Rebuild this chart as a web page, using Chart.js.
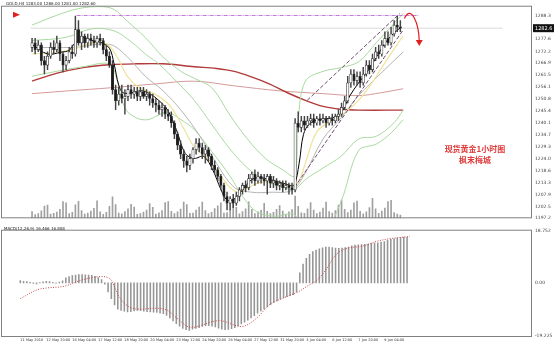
<!DOCTYPE html>
<html>
<head>
<meta charset="utf-8">
<script src="https://cdn.jsdelivr.net/npm/chart.js@4.4.0/dist/chart.umd.min.js"></script>
<style>
  body { margin: 0; background: #fff; width: 554px; height: 343px; overflow: hidden; position: relative; font-family: "DejaVu Sans", sans-serif; }
  #main { position: absolute; left: 0; top: 0; }
  #macd { position: absolute; left: 0; top: 224px; }
  .tiny { position: absolute; font-size: 4px; color: #222; white-space: nowrap; z-index: 2; }
  .cn { position: absolute; color: #e03a3a; font: bold 8px "Noto Sans CJK SC", sans-serif; white-space: nowrap; z-index: 2; text-align: center; width: 90px; }
</style>
</head>
<body>
<canvas id="main" width="554" height="224"></canvas>
<canvas id="macd" width="554" height="119"></canvas>
<div class="tiny" style="left:6px;top:1px">GOLD,H4 1283.00 1286.00 1281.00 1282.60</div>
<div class="tiny" style="left:4px;top:226px">MACD(12,26,9) 16.466 16.808</div>
<div class="cn" style="left:430px;top:143px">现货黄金1小时图</div>
<div class="cn" style="left:430px;top:154px">枫末梅城</div>
<script>
// candles (index 0 .. 119), 4h gold
const opens = [
  1274,1276,1273,1275,1268,1266,1270,1274,1273,1276,
  1271,1266,1268,1272,1271,1282,1276,1279,1276,1278,
  1277,1276,1278,1277,1273,1270,1266,1255,1250,1253,
  1251,1252,1255,1253,1254,1252,1254,1252,1253,1251,
  1249,1248,1246,1247,1244,1243,1240,1235,1230,1226,
  1223,1221,1224,1228,1231,1229,1226,1228,1225,1221,
  1219,1216,1212,1207,1204,1206,1204,1207,1210,1212,
  1211,1215,1217,1214,1216,1215,1214,1216,1213,1214,
  1212,1213,1211,1212,1211,1210,1240,1238,1241,1239,
  1241,1242,1240,1242,1241,1242,1240,1242,1241,1243,
  1244,1247,1250,1258,1262,1259,1261,1258,1262,1266,
  1264,1269,1272,1271,1275,1278,1276,1280,1284,1283
];
const closes = [
  1276,1273,1275,1268,1266,1270,1274,1273,1276,1271,
  1266,1268,1272,1271,1282,1276,1279,1276,1278,1277,
  1276,1278,1277,1273,1270,1266,1255,1250,1253,1251,
  1252,1255,1253,1254,1252,1254,1252,1253,1251,1249,
  1248,1246,1247,1244,1243,1240,1235,1230,1226,1223,
  1221,1224,1228,1231,1229,1226,1228,1225,1221,1219,
  1216,1212,1207,1204,1206,1204,1207,1210,1212,1211,
  1215,1217,1214,1216,1215,1214,1216,1213,1214,1212,
  1213,1211,1212,1211,1210,1240,1238,1241,1239,1241,
  1242,1240,1242,1241,1242,1240,1242,1241,1243,1244,
  1247,1250,1258,1262,1259,1261,1258,1262,1266,1264,
  1269,1272,1271,1275,1278,1276,1280,1284,1283,1282.6
];
const highs = [
  1278,1278,1277,1276,1270,1272,1276,1277,1279,1277,
  1272,1270,1274,1275,1288,1286,1281,1280,1280,1280,
  1279,1279,1280,1278,1275,1272,1268,1257,1256,1257,
  1255,1257,1257,1256,1256,1256,1256,1255,1254,1253,
  1251,1250,1249,1248,1246,1245,1241,1236,1232,1228,
  1225,1226,1229,1233,1233,1231,1230,1229,1226,1223,
  1220,1217,1213,1209,1207,1208,1209,1211,1213,1214,
  1217,1218,1219,1218,1217,1217,1217,1217,1216,1215,
  1214,1214,1214,1213,1213,1242,1245,1243,1243,1243,
  1244,1244,1243,1244,1244,1243,1243,1244,1244,1246,
  1249,1252,1261,1264,1264,1263,1263,1265,1268,1268,
  1271,1274,1275,1277,1281,1281,1283,1286,1288,1286
];
const lows = [
  1272,1271,1272,1266,1262,1264,1269,1271,1272,1268,
  1263,1264,1267,1269,1270,1275,1273,1274,1274,1275,
  1274,1274,1275,1271,1268,1265,1253,1246,1248,1249,
  1244,1250,1251,1251,1250,1250,1251,1250,1248,1247,
  1245,1244,1243,1242,1241,1238,1233,1228,1224,1220,
  1218,1219,1222,1226,1227,1224,1222,1223,1219,1217,
  1214,1210,1205,1201,1201,1202,1203,1205,1208,1209,
  1210,1213,1212,1213,1213,1212,1208,1211,1211,1210,
  1210,1209,1210,1208,1208,1209,1236,1236,1237,1238,
  1239,1238,1239,1239,1240,1238,1239,1239,1240,1241,
  1243,1246,1249,1256,1257,1257,1256,1257,1261,1262,
  1263,1268,1269,1270,1274,1275,1275,1279,1281,1281
];
const volumes = [
  3800,2100,2600,4200,6900,7400,2400,2800,3500,5100,
  9400,8800,2600,3300,7600,9600,4400,2400,2900,4100,
  5600,9900,3600,2200,3300,6800,12100,7700,3000,2500,
  3800,5400,7900,6300,2300,2600,3500,4600,8300,6200,
  2400,3100,4400,8900,9500,3900,2700,3600,5200,9100,
  7800,2800,3000,4700,6400,9200,4300,2600,3400,5500,
  7100,8700,2900,3200,4800,8600,6200,2500,3800,5300,
  9300,5000,2700,3600,4500,8400,3900,2600,3300,5000,
  7200,4100,2400,3700,4900,12500,6800,3100,2800,5300,
  8900,4600,2600,3500,5800,9200,3800,2900,4400,7400,
  10300,5100,3200,4700,8800,9700,3900,2500,3600,6000,
  11300,5400,2800,4100,5700,9400,10100,3200,2400,1800
];

// indicator lines: [candle index, price]
const maFast = [[0,1275.3],[5,1271],[9.3,1271.8],[12,1272.7],[14,1276.2],[16.5,1278.4],[19.3,1277.1],[22.2,1276.2],[25,1273.6],[26.5,1266.6],[28,1257.1],[29.4,1253.6],[32.3,1253.6],[35.1,1254.5],[38,1253.2],[40.9,1250.2],[43.8,1245.8],[46.6,1237.1],[49.5,1226.3],[52.4,1224.1],[55.5,1225],[58.4,1218.9],[61,1210.2],[63,1205.4],[65.3,1205.9],[68.2,1210.2],[71,1214.6],[74,1215.4],[78.2,1214.1],[82.5,1212.4],[84.6,1211.9],[86.3,1221.9],[87.7,1234.9],[89.7,1239.7],[92.6,1241.5],[96.9,1242.3],[99.8,1244.5],[102.7,1252.3],[105.5,1258],[108.4,1263.2],[111.3,1269.7],[114.2,1276.2],[117,1280.5],[119.3,1283.1]];
const maYellow = [[0,1271],[7.8,1271.8],[13.6,1273.2],[17.9,1275.3],[22.2,1276.2],[25,1274.5],[28,1268.4],[30.8,1261],[35.1,1255.4],[39.4,1253.2],[43.8,1248.9],[46.6,1243.6],[49.5,1236.3],[52.4,1229.3],[56.7,1224.1],[61,1216.3],[63.9,1211.1],[66.7,1208.9],[69.6,1210.7],[72.5,1212.8],[75.4,1213.7],[81.1,1212.8],[85.4,1212.4],[88.3,1221.9],[90.6,1231.9],[92.6,1237.1],[96.3,1240.6],[100.4,1244.1],[105.5,1250.2],[109.8,1258],[114.2,1267.5],[119.9,1279.2]];
const maGray = [[0,1274],[13.6,1274],[25.1,1275.3],[30.8,1269.7],[36.6,1261],[42.3,1254.5],[48.1,1245.8],[53.8,1235],[59.6,1221.9],[65.3,1211.1],[71.1,1208.9],[76.8,1208.9],[84,1209.8],[88.3,1217.6],[94,1232.8],[99.8,1242.3],[105.5,1252.3],[112.7,1262.3],[119.9,1271.9]];
const bandUpper = [[0,1284],[7.8,1288.3],[15,1291.4],[22.2,1292.3],[26.5,1291],[30.8,1285.7],[36.6,1278.4],[42.3,1269.7],[48.1,1263.2],[52.4,1260.1],[58.1,1255.8],[63.9,1243.6],[69.6,1232.8],[75.4,1224.1],[81.1,1218.9],[84.8,1216.3],[86,1241.5],[88.3,1258.8],[94,1263.2],[99.8,1264.9],[105.5,1267.5],[111.3,1276.2],[119.9,1289.2]];
const bandMiddle = [[0,1277.1],[10.7,1278.4],[19.3,1282.3],[26.5,1281.4],[32.3,1276.2],[36.6,1271],[40.9,1266.6],[46.6,1258.8],[52.4,1250.2],[58.1,1239.3],[63.9,1228.4],[69.6,1219.8],[75.4,1214.1],[81.1,1211.1],[84.8,1210.2],[88.3,1214.6],[94,1219.8],[99.8,1225],[105.5,1232.8],[111.3,1234.1],[117,1240.2],[119.9,1245.8]];
const bandLower = [[0,1261],[7.8,1263.2],[16.5,1265.3],[25.1,1266.6],[27.1,1261],[30,1246.7],[33.7,1242.3],[37.4,1241.5],[40.9,1243.6],[43.8,1244.9],[48.1,1241.5],[52.4,1237.1],[58.1,1227.1],[63.9,1216.3],[68.2,1206.7],[72.5,1200.2],[78.2,1198.1],[84.8,1198.9],[86.9,1191.6],[94,1190.3],[99.8,1204.6],[105.5,1227.6],[111.3,1230.6],[116.2,1235.8],[119.9,1241.5]];
const maRed = [[0,1258.8],[7.8,1262.3],[16.5,1264.9],[25.1,1266.2],[33.7,1266.6],[42.3,1266.6],[52.4,1265.3],[59.6,1264.5],[65.3,1263.2],[71.1,1260.6],[76.8,1257.5],[82.5,1253.6],[88.3,1250.2],[94,1247.5],[99.8,1246.2],[105.5,1245.8],[119.9,1245.8]];
const maPink = [[0,1253.2],[12.1,1254.5],[25.1,1255.8],[39.4,1257.5],[52.4,1258.8],[65.3,1256.7],[79.7,1254.5],[94,1253.2],[105.5,1252.3],[112.7,1253.6],[119.9,1255.4]];

// drawn objects
const resistance = [[14.4,1288.3],[124.8,1288.3]];
const channelUpper = [[88.9,1250.2],[118.8,1289.2]];
const channelLower = [[84.8,1211.1],[119.9,1281.8]];
const arrowPath = [[120.3,1287],[122.6,1292],[125,1284],[125.1,1275]];

// MACD
const macdMain = [
  0.8,0.6,0.5,0.2,-0.2,-0.4,0.1,0.4,0.6,0.5,
  0.2,-0.1,0.3,0.7,1.8,2.3,2.6,2.8,3.0,3.0,
  2.9,2.8,2.7,2.4,1.9,1.2,-0.5,-3.3,-5.7,-8.0,
  -9.5,-10.0,-10.3,-10.5,-10.4,-10.2,-10.0,-10.1,-10.3,-10.4,
  -10.5,-10.6,-10.7,-11.0,-11.2,-11.8,-12.7,-13.8,-14.8,-15.7,
  -16.5,-17.0,-17.2,-16.8,-16.5,-16.2,-15.8,-15.5,-15.5,-15.7,
  -16.0,-16.4,-16.8,-17.0,-16.9,-16.6,-16.2,-15.6,-14.9,-14.2,
  -13.5,-12.7,-11.9,-11.0,-10.2,-9.4,-8.7,-7.9,-7.1,-6.5,
  -5.9,-5.4,-5.0,-4.6,-4.3,-3.3,3.6,6.8,8.9,10.3,
  11.3,11.9,12.3,12.7,13.0,13.0,12.8,12.6,12.5,12.6,
  12.8,13.0,13.4,13.7,13.8,13.9,14.0,14.1,14.3,14.4,
  14.5,14.8,15.0,15.4,15.8,16.0,16.2,16.4,16.6,16.5
];
const macdSignal = [[0,-5.7],[5,-2.6],[7.8,-1.9],[13.6,-1.2],[18.5,0.9],[22.2,1.9],[25,2.3],[27,1.9],[28,0.9],[30.8,-5.7],[33.7,-8.9],[36.6,-9.5],[42.3,-9.2],[45.2,-9.9],[48.1,-12.7],[52.4,-16.1],[61.1,-13.7],[68.2,-15.8],[72.5,-13.0],[76.8,-7.8],[81.1,-5.4],[85.4,-3.3],[88.3,-1.2],[91.2,0.9],[94,4.7],[96.9,9.9],[99.8,12.3],[105.5,13.4],[109.8,15.1],[114.2,16.1],[119.9,16.8]];

// axes
const priceTicks = [1288.3,1282.9,1277.6,1272.2,1266.9,1261.5,1256.1,1250.8,1245.4,1240.1,1234.7,1229.3,1224.0,1218.6,1213.3,1207.9,1202.5,1197.2];
const macdTicks = [18.752, 0, -19.225];
const dateIdx = [0,8,16,24,32,40,48,56,64,72,80,88,96,104,112];
const dateLabels = ['11 May 2016','12 May 20:00','16 May 04:00','17 May 12:00','18 May 20:00','20 May 04:00','23 May 12:00','24 May 20:00','26 May 04:00','27 May 12:00','31 May 20:00','3 Jun 04:00','6 Jun 12:00','7 Jun 20:00','9 Jun 04:00'];

const idx = closes.map((c, i) => i);
const pts = arr => arr.map(p => ({ x: p[0], y: p[1] }));
const X_MIN = -0.5, X_MAX = 152;

function line(data, color, width, extra) {
  return Object.assign({
    type: 'line', data: pts(data), borderColor: color, borderWidth: width,
    pointRadius: 0, tension: 0.35, fill: false, yAxisID: 'y', order: 3
  }, extra || {});
}

const frame = {
  id: 'frame',
  afterDraw(chart) {
    const { ctx, chartArea: a } = chart;
    ctx.save();
    ctx.strokeStyle = '#808080';
    ctx.lineWidth = 1;
    ctx.strokeRect(a.left + 0.5, a.top + 0.5, a.right - a.left - 1, a.bottom - a.top - 1);
    ctx.restore();
  }
};

const marks = {
  id: 'marks',
  afterDraw(chart) {
    const { ctx, chartArea: a, scales } = chart;
    const px = p => [scales.x.getPixelForValue(p[0]), scales.y.getPixelForValue(p[1])];
    ctx.save();
    // shift marker
    ctx.fillStyle = '#e02020';
    ctx.beginPath();
    ctx.moveTo(a.left + 12, a.top + 6); ctx.lineTo(a.left + 19, a.top + 9); ctx.lineTo(a.left + 12, a.top + 12);
    ctx.closePath(); ctx.fill();
    // curved arrow
    const [p0, p1, p2, p3] = arrowPath.map(px);
    ctx.strokeStyle = '#e02020';
    ctx.lineWidth = 1.2;
    ctx.beginPath();
    ctx.moveTo(p0[0], p0[1]);
    ctx.bezierCurveTo(p1[0], p1[1] - 4, p2[0], p2[1], p3[0], p3[1] - 4);
    ctx.stroke();
    ctx.beginPath();
    ctx.moveTo(p3[0] - 3.5, p3[1] - 5); ctx.lineTo(p3[0] + 3.5, p3[1] - 5); ctx.lineTo(p3[0], p3[1] + 1);
    ctx.closePath(); ctx.fill();
    // current price tag
    const last = closes[closes.length - 1];
    const y = scales.y.getPixelForValue(last);
    ctx.fillStyle = '#111';
    ctx.fillRect(a.right + 1, y - 4, 21, 8);
    ctx.fillStyle = '#fff';
    ctx.font = '5px "DejaVu Sans"';
    ctx.textBaseline = 'middle';
    ctx.fillText(last.toFixed(1), a.right + 3, y + 0.5);
    ctx.restore();
  }
};

new Chart(document.getElementById('main'), {
  type: 'bar',
  data: {
    datasets: [
      { type: 'bar', data: idx.map(i => ({ x: i, y: [opens[i], closes[i]] })), yAxisID: 'y', order: 0,
        backgroundColor: idx.map(i => closes[i] >= opens[i] ? '#ffffff' : '#1a1a1a'),
        borderColor: '#333', borderWidth: 0.7, borderSkipped: false, barThickness: 2.4, grouped: false },
      { type: 'bar', data: idx.map(i => ({ x: i, y: [lows[i], highs[i]] })), yAxisID: 'y', order: 1,
        backgroundColor: '#444', barThickness: 0.8, grouped: false },
      line(maFast, '#000000', 1, { order: 2 }),
      line(maYellow, '#efe39a', 1.2),
      line(maGray, '#b4b4b4', 1),
      line(bandUpper, '#a9d9a0', 1),
      line(bandMiddle, '#a9d9a0', 1),
      line(bandLower, '#a9d9a0', 1),
      line(maRed, '#b23a3a', 1.4, { order: 4 }),
      line(maPink, '#d49a9a', 1, { order: 4 }),
      line(resistance, '#c27ad6', 1, { tension: 0, borderDash: [4, 1, 1, 1], order: 2 }),
      line(channelUpper, '#6e4d6e', 1, { tension: 0, borderDash: [4, 2], order: 2 }),
      line(channelLower, '#6e4d6e', 1, { tension: 0, borderDash: [4, 2], order: 2 }),
      line([[X_MIN, closes[closes.length - 1]], [X_MAX, closes[closes.length - 1]]], '#d0d0d0', 0.8, { tension: 0, order: 9 }),
      { type: 'bar', data: idx.map(i => ({ x: i, y: volumes[i] })), yAxisID: 'yv', order: 10,
        backgroundColor: '#a0a0a0', barThickness: 1, grouped: false }
    ]
  },
  options: {
    responsive: false, animation: false, events: [],
    layout: { padding: { left: 1, top: 2, bottom: 2, right: 0 } },
    plugins: { legend: { display: false }, tooltip: { enabled: false } },
    scales: {
      x: { type: 'linear', min: X_MIN, max: X_MAX, display: false },
      y: {
        position: 'right', min: 1197.2, max: 1292.7,
        afterFit: s => { s.width = 22; },
        afterBuildTicks: s => { s.ticks = priceTicks.map(v => ({ value: v })); },
        ticks: { autoSkip: false, font: { size: 4.5, family: 'DejaVu Sans' }, color: '#444', padding: 3, callback: v => v.toFixed(1) },
        grid: { display: false, drawTicks: false },
        border: { display: false }
      },
      yv: { display: false, min: 0, max: 120000 }
    }
  },
  plugins: [frame, marks]
});

new Chart(document.getElementById('macd'), {
  type: 'bar',
  data: {
    datasets: [
      { type: 'bar', data: idx.map(i => ({ x: i, y: macdMain[i] })), backgroundColor: '#959595', barThickness: 0.9, order: 2 },
      { type: 'line', data: pts(macdSignal), borderColor: '#c84848', borderWidth: 1, borderDash: [1, 1.5],
        pointRadius: 0, tension: 0.35, fill: false, order: 1 }
    ]
  },
  options: {
    responsive: false, animation: false, events: [],
    layout: { padding: { left: 1, top: 1, right: 0, bottom: 0 } },
    plugins: { legend: { display: false }, tooltip: { enabled: false } },
    scales: {
      x: {
        type: 'linear', min: X_MIN, max: X_MAX,
        afterFit: s => { s.height = 6; },
        afterBuildTicks: s => { s.ticks = dateIdx.map(v => ({ value: v })); },
        ticks: { autoSkip: false, maxRotation: 0, align: 'start', padding: 1, font: { size: 3.5, family: 'DejaVu Sans' }, color: '#333',
          callback: v => dateLabels[dateIdx.indexOf(v)] },
        grid: { display: false, drawTicks: false },
        border: { display: false }
      },
      y: {
        position: 'right', min: -19.62, max: 19.27,
        afterFit: s => { s.width = 22; },
        afterBuildTicks: s => { s.ticks = macdTicks.map(v => ({ value: v })); },
        ticks: { autoSkip: false, font: { size: 4.5, family: 'DejaVu Sans' }, color: '#444', padding: 3,
          callback: v => v === 0 ? '0.00' : v.toFixed(3) },
        grid: { display: false, drawTicks: false },
        border: { display: false }
      }
    }
  },
  plugins: [frame]
});
</script>
</body>
</html>
